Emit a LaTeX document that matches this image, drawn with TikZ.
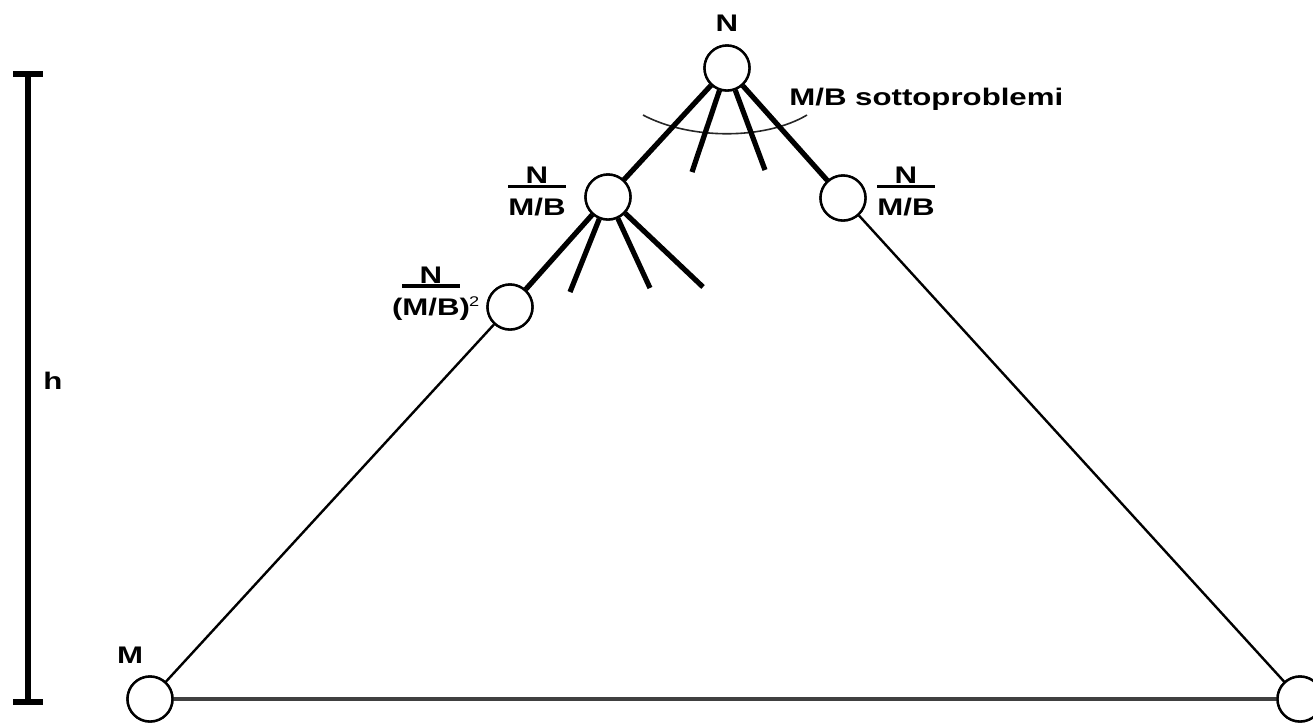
\documentclass[tikz,border=0pt]{standalone}
\usepackage{fontspec}
\setmainfont{Liberation Sans}[FakeStretch=1.3]
\newlength\mbw
\newcommand\myfr[2]{{\renewcommand\arraystretch{0}\setlength\arrayrulewidth{1.6pt}\begin{tabular}{@{}c@{}}\rule[-0.6pt]{0pt}{9.4pt}#1\\\hline\rule{0pt}{14pt}#2\end{tabular}}}
\begin{document}
\begin{tikzpicture}[x=0.5pt,y=-0.5pt,
  nd/.style={circle,draw,line width=1.2pt,minimum size=22.5pt,inner sep=0pt,fill=white},
  thk/.style={line width=2.6pt},
  thn/.style={line width=1.2pt},
  lbl/.style={font=\fontsize{12}{14}\selectfont\bfseries,inner sep=0pt}]
\useasboundingbox (0,0) rectangle (1313,725);
% height bar
\coordinate (bt) at (28,74);
\coordinate (bb) at (28,702);
\coordinate (btl) at (13,74);
\coordinate (btr) at (43,74);
\coordinate (bbl) at (13,702);
\coordinate (bbr) at (43,702);
\draw[line width=3pt] (bt) -- (bb);
\draw[line width=3pt] (btl) -- (btr);
\draw[line width=3pt] (bbl) -- (bbr);
\node[lbl] (h) at (53,381) {h};
% nodes
\node[nd] (root) at (727,68) {};
\node[nd] (lc) at (608,197) {};
\node[nd] (rc) at (843,198) {};
\node[nd] (gc) at (510,307) {};
\node[nd] (bl) at (150,699) {};
\node[nd] (br) at (1300,699) {};
% free ends of stubs
\coordinate (s1) at (692,172);
\coordinate (s2) at (765,170);
\coordinate (t1) at (570,292);
\coordinate (t2) at (650,288);
\coordinate (t3) at (703,287);
\coordinate (a1) at (643,115);
\coordinate (a2) at (807,115);
% edges
\draw[thn] (gc) -- (bl);
\draw[thn] (rc) -- (br);
\draw[line width=1.9pt,black!75] (bl) -- (br);
\draw[line width=0.8pt,black!85] (a1) .. controls (690,140) and (765,140) .. (a2);
\draw[thk] (root) -- (lc);
\draw[thk] (root) -- (rc);
\draw[thk] (root) -- (s1);
\draw[thk] (root) -- (s2);
\draw[thk] (lc) -- (gc);
\draw[thk] (lc) -- (t1);
\draw[thk] (lc) -- (t2);
\draw[thk] (lc) -- (t3);
% redraw nodes on top
\node[nd] at (root) {};
\node[nd] at (lc) {};
\node[nd] at (rc) {};
\node[nd] at (gc) {};
\node[nd] at (bl) {};
\node[nd] at (br) {};
% labels
\node[lbl] (lN) at (727,23) {N};
\node[lbl,anchor=west] (lsub) at (789,99) {M/B sottoproblemi};
\node[lbl] (lrc) at (906,191) {\myfr{N}{M/B}};
\node[lbl] (llc) at (537,191) {\myfr{N}{M/B}};
\node[lbl] (lgc) at (431,293) {\settowidth\mbw{M/B}\myfr{N}{\makebox[\mbw][c]{(M/B)}\rlap{\hspace{4.8pt}\raisebox{4.5pt}{\fontsize{7}{8}\selectfont\mdseries 2}}}};
\node[lbl] (lM) at (130,655) {M};
\end{tikzpicture}
\end{document}
